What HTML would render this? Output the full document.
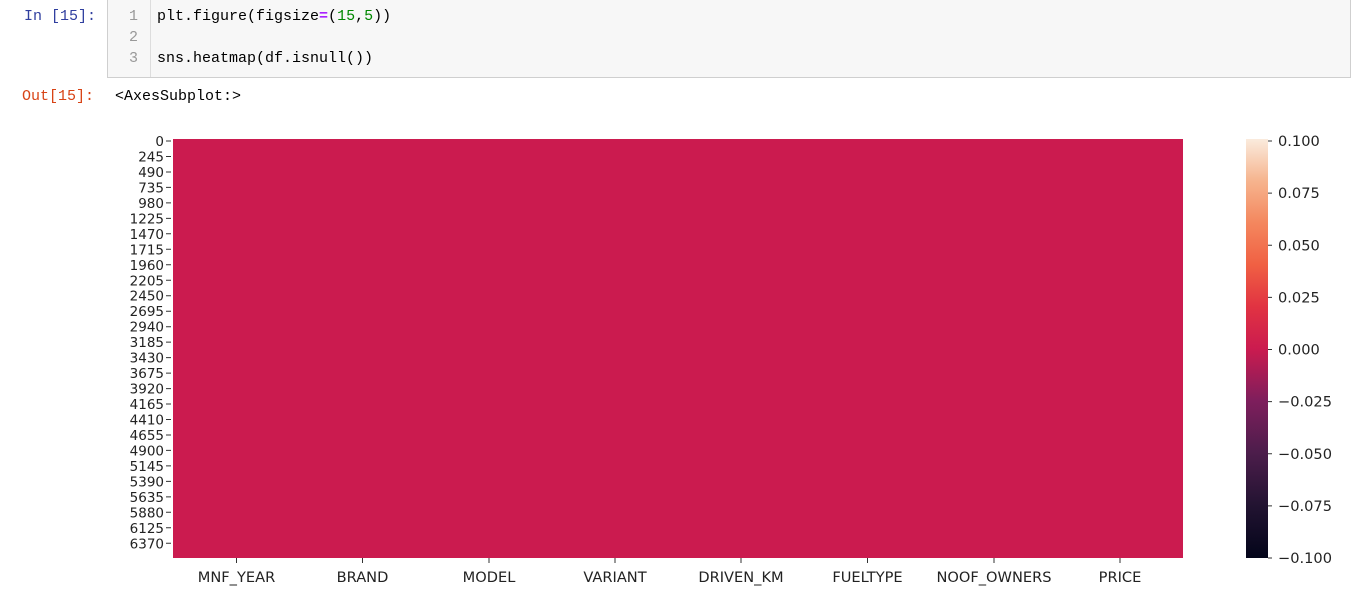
<!DOCTYPE html>
<html><head><meta charset="utf-8"><style>
html,body{margin:0;padding:0;background:#fff;width:1354px;height:612px;overflow:hidden;position:relative}
.m{font-family:"Liberation Mono",monospace;font-size:15px;position:absolute;white-space:pre;line-height:20px}
</style></head><body>
<div style="position:absolute;left:107px;top:-1px;width:1242px;height:77px;background:#f7f7f7;border:1px solid #cfcfcf;"></div>
<div style="position:absolute;left:150px;top:0;width:1px;height:77px;background:#ddd"></div>
<div class="m" style="left:24px;top:7px;color:#303f9f">In [15]:</div>
<div class="m" style="left:129px;top:7px;color:#999">1</div>
<div class="m" style="left:129px;top:28px;color:#999">2</div>
<div class="m" style="left:129px;top:49px;color:#999">3</div>
<div class="m" style="left:157px;top:7px;color:#000">plt.figure(figsize<span style="color:#aa22ff;font-weight:bold">=</span>(<span style="color:#008800">15</span>,<span style="color:#008800">5</span>))</div>
<div class="m" style="left:157px;top:49px;color:#000">sns.heatmap(df.isnull())</div>
<div class="m" style="left:22px;top:87px;color:#d84315">Out[15]:</div>
<div class="m" style="left:115px;top:87px;color:#000">&lt;AxesSubplot:&gt;</div>
<svg width="1354" height="612" style="position:absolute;left:0;top:0" font-family="DejaVu Sans, sans-serif" font-size="13.5">
<defs><linearGradient id="g" x1="0" y1="1" x2="0" y2="0">
<stop offset="0" stop-color="#03051a"/><stop offset="0.125" stop-color="#221331"/><stop offset="0.25" stop-color="#4c1d4b"/><stop offset="0.375" stop-color="#7e1e5c"/><stop offset="0.5" stop-color="#cb1b4f"/><stop offset="0.6" stop-color="#e13342"/><stop offset="0.7" stop-color="#f06043"/><stop offset="0.8" stop-color="#f4875e"/><stop offset="0.9" stop-color="#f6b48e"/><stop offset="1" stop-color="#faebdd"/>
</linearGradient></defs>
<rect x="173" y="139" width="1010" height="419" fill="#cb1b4f"/>
<rect x="1246" y="139" width="22" height="419" fill="url(#g)"/>
<g stroke="#333" stroke-width="1">
<path d="M166 141h5M166 156.5h5M166 172h5M166 187.4h5M166 202.9h5M166 218.4h5M166 233.8h5M166 249.3h5M166 264.8h5M166 280.3h5M166 295.7h5M166 311.2h5M166 326.7h5M166 342.1h5M166 357.6h5M166 373.1h5M166 388.6h5M166 404h5M166 419.5h5M166 435h5M166 450.4h5M166 465.9h5M166 481.4h5M166 496.9h5M166 512.3h5M166 527.8h5M166 543.3h5"/>
<path d="M236.5 558v5M362.5 558v5M489 558v5M615 558v5M741 558v5M867.5 558v5M994 558v5M1120 558v5"/>
<path d="M1268 141h4M1268 193.1h4M1268 245.3h4M1268 297.4h4M1268 349.5h4M1268 401.6h4M1268 453.8h4M1268 505.9h4M1268 558h4"/>
</g>
<g text-anchor="end" fill="#222">
<text x="164" y="146">0</text><text x="164" y="161.5">245</text><text x="164" y="177">490</text><text x="164" y="192.4">735</text><text x="164" y="207.9">980</text><text x="164" y="223.4">1225</text><text x="164" y="238.8">1470</text><text x="164" y="254.3">1715</text><text x="164" y="269.8">1960</text><text x="164" y="285.3">2205</text><text x="164" y="300.7">2450</text><text x="164" y="316.2">2695</text><text x="164" y="331.7">2940</text><text x="164" y="347.1">3185</text><text x="164" y="362.6">3430</text><text x="164" y="378.1">3675</text><text x="164" y="393.6">3920</text><text x="164" y="409">4165</text><text x="164" y="424.5">4410</text><text x="164" y="440">4655</text><text x="164" y="455.4">4900</text><text x="164" y="470.9">5145</text><text x="164" y="486.4">5390</text><text x="164" y="501.9">5635</text><text x="164" y="517.3">5880</text><text x="164" y="532.8">6125</text><text x="164" y="548.3">6370</text>
</g>
<g text-anchor="middle" fill="#222" font-size="14.6">
<text x="236.5" y="582">MNF_YEAR</text><text x="362.5" y="582">BRAND</text><text x="489" y="582">MODEL</text><text x="615" y="582">VARIANT</text><text x="741" y="582">DRIVEN_KM</text><text x="867.5" y="582">FUELTYPE</text><text x="994" y="582">NOOF_OWNERS</text><text x="1120" y="582">PRICE</text>
</g>
<g fill="#222" font-size="14.6">
<text x="1278" y="146">0.100</text><text x="1278" y="198.1">0.075</text><text x="1278" y="250.3">0.050</text><text x="1278" y="302.4">0.025</text><text x="1278" y="354.5">0.000</text><text x="1278" y="406.6">−0.025</text><text x="1278" y="458.8">−0.050</text><text x="1278" y="510.9">−0.075</text><text x="1278" y="563">−0.100</text>
</g>
</svg>
</body></html>
